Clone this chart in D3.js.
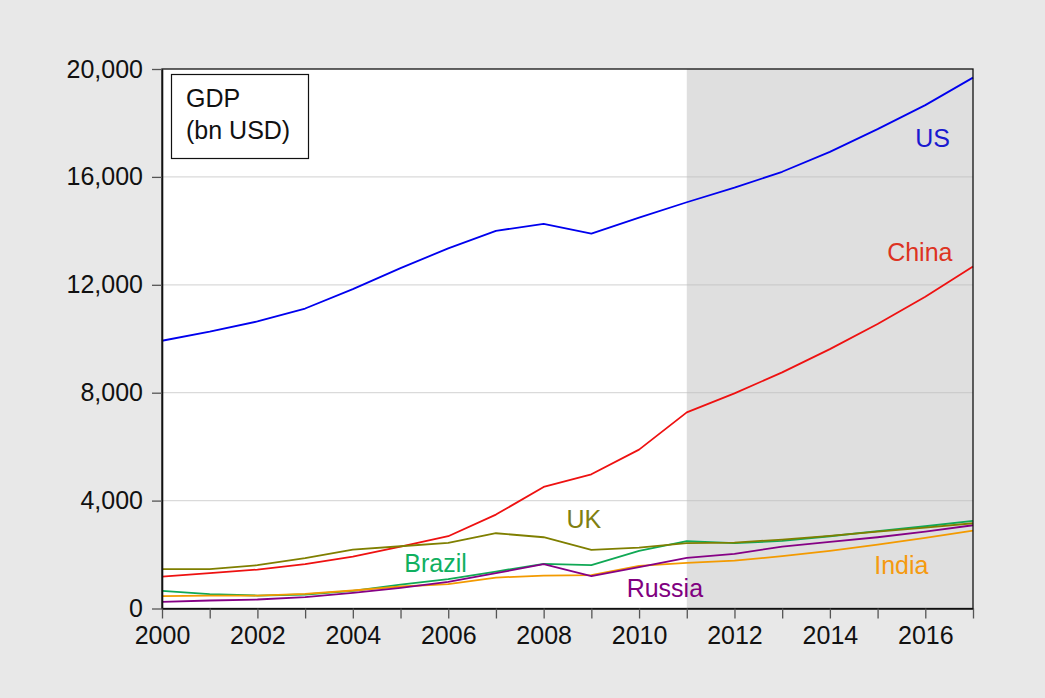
<!DOCTYPE html>
<html>
<head>
<meta charset="utf-8">
<script src="https://cdn.jsdelivr.net/npm/d3@7"></script>
<style>
  body { margin: 0; background: #e8e8e8; }
  svg { display: block; font-family: "Liberation Sans", Arial, sans-serif; }
</style>
</head>
<body>
<svg id="chart"></svg>
<script>
// GDP, bn USD
var years = [2000, 2001, 2002, 2003, 2004, 2005, 2006, 2007, 2008, 2009, 2010, 2011, 2012, 2013, 2014, 2015, 2016, 2017];
var us = [9926, 10260, 10640, 11120, 11840, 12620, 13350, 14000, 14260, 13900, 14490, 15060, 15600, 16190, 16930, 17770, 18660, 19680];
var china = [1185, 1308, 1444, 1642, 1926, 2290, 2679, 3482, 4506, 4975, 5889, 7271, 7975, 8753, 9617, 10545, 11556, 12680];
var uk = [1457, 1457, 1605, 1864, 2185, 2308, 2432, 2790, 2642, 2173, 2259, 2420, 2444, 2556, 2691, 2852, 3000, 3160];
var brazil = [654, 531, 481, 519, 654, 889, 1087, 1370, 1654, 1605, 2136, 2494, 2420, 2506, 2679, 2865, 3049, 3247];
var russia = [247, 296, 333, 420, 580, 765, 988, 1308, 1642, 1197, 1531, 1876, 2025, 2296, 2469, 2642, 2852, 3086];
var india = [457, 481, 481, 543, 667, 815, 901, 1148, 1222, 1234, 1580, 1691, 1778, 1938, 2136, 2370, 2617, 2889];
var yTicks = [0, 4000, 8000, 12000, 16000, 20000];
var xLabels = [2000, 2002, 2004, 2006, 2008, 2010, 2012, 2014, 2016];
var shadeFrom = 2011;

var series = [
  {name: "US", values: us, color: "#0000ee", labelColor: "#1a1ad0", lx: 2015.79, ly: 17110},
  {name: "China", values: china, color: "#ee1111", labelColor: "#dd3322", lx: 2015.2, ly: 12880},
  {name: "Brazil", values: brazil, color: "#10a855", labelColor: "#10b060", lx: 2005.08, ly: 1364},
  {name: "India", values: india, color: "#f39a00", labelColor: "#f59a10", lx: 2014.93, ly: 1268},
  {name: "Russia", values: russia, color: "#850085", labelColor: "#800080", lx: 2009.74, ly: 415},
  {name: "UK", values: uk, color: "#7f7f00", labelColor: "#808010", lx: 2008.48, ly: 2973}
];

var width = 1045;
var height = 698;
var margin = {top: 69, right: 72, bottom: 89.5, left: 162};

var svg = d3.select("#chart")
    .attr("width", width)
    .attr("height", height);

svg.append("rect")
    .attr("width", width)
    .attr("height", height)
    .attr("fill", "#e8e8e8");

var x = d3.scaleLinear()
    .domain([2000, 2017])
    .range([margin.left, width - margin.right]);

var y = d3.scaleLinear()
    .domain([0, 20000])
    .range([height - margin.bottom, margin.top]);

// plot background and shaded period
svg.append("rect")
    .attr("x", x(2000))
    .attr("y", y(20000))
    .attr("width", x(2017) - x(2000))
    .attr("height", y(0) - y(20000))
    .attr("fill", "#ffffff");

svg.append("rect")
    .attr("x", x(shadeFrom))
    .attr("y", y(20000))
    .attr("width", x(2017) - x(shadeFrom))
    .attr("height", y(0) - y(20000))
    .attr("fill", "#dfdfdf");

// gridlines
svg.append("g")
    .selectAll("line")
    .data(yTicks.filter(d => d > 0 && d < 20000))
    .join("line")
    .attr("x1", x(2000))
    .attr("x2", x(2017))
    .attr("y1", d => y(d))
    .attr("y2", d => y(d))
    .attr("stroke", "#bbbbbb")
    .attr("stroke-opacity", 0.55)
    .attr("stroke-width", 1.2);

// lines
var line = d3.line()
    .x((d, i) => x(years[i]))
    .y(d => y(d));

svg.append("g")
    .selectAll("path")
    .data(series)
    .join("path")
    .attr("d", d => line(d.values))
    .attr("fill", "none")
    .attr("stroke", d => d.color)
    .attr("stroke-width", 1.8)
    .attr("stroke-linejoin", "round");

// series labels
svg.append("g")
    .selectAll("text")
    .data(series)
    .join("text")
    .attr("x", d => x(d.lx))
    .attr("y", d => y(d.ly))
    .attr("fill", d => d.labelColor)
    .attr("font-size", 25)
    .text(d => d.name);

// frame
svg.append("rect")
    .attr("x", x(2000))
    .attr("y", y(20000))
    .attr("width", x(2017) - x(2000))
    .attr("height", y(0) - y(20000))
    .attr("fill", "none")
    .attr("stroke", "#111")
    .attr("stroke-width", 1.3);

// axes
var yAxis = d3.axisLeft(y)
    .tickValues(yTicks)
    .tickFormat(d3.format(","))
    .tickSizeInner(10)
    .tickSizeOuter(0)
    .tickPadding(9);

var gy = svg.append("g")
    .attr("transform", `translate(${x(2000)},0)`)
    .call(yAxis);

var xAxis = d3.axisBottom(x)
    .tickValues(years)
    .tickFormat(d => xLabels.includes(d) ? d : "")
    .tickSizeInner(10)
    .tickSizeOuter(0)
    .tickPadding(8);

var gx = svg.append("g")
    .attr("transform", `translate(0,${y(0)})`)
    .call(xAxis);

[gx, gy].forEach(g => {
  g.select(".domain").attr("stroke", "#111").attr("stroke-width", 1.6);
  g.selectAll(".tick line").attr("stroke", "#555").attr("stroke-width", 1.3);
  g.selectAll(".tick text")
      .attr("font-size", 25)
      .attr("fill", "#111")
      .attr("font-family", "Liberation Sans, Arial, sans-serif");
});

// legend box
var legend = svg.append("g");
legend.append("rect")
    .attr("x", 171.5)
    .attr("y", 74.5)
    .attr("width", 137)
    .attr("height", 84)
    .attr("fill", "#fff")
    .attr("stroke", "#111")
    .attr("stroke-width", 1.2);
legend.append("text")
    .attr("x", 186)
    .attr("y", 107)
    .attr("font-size", 25)
    .attr("fill", "#111")
    .text("GDP");
legend.append("text")
    .attr("x", 186)
    .attr("y", 139)
    .attr("font-size", 25)
    .attr("fill", "#111")
    .text("(bn USD)");
</script>
</body>
</html>
